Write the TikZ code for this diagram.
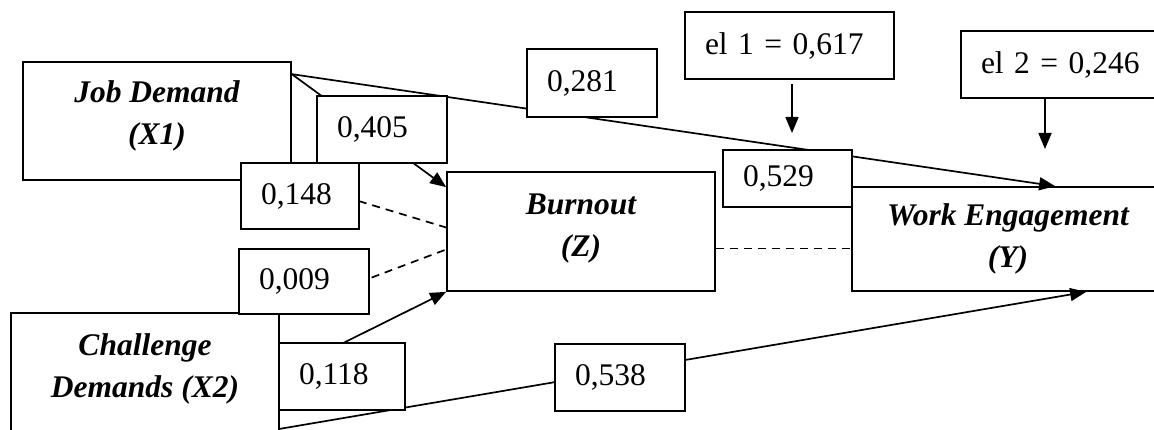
\documentclass[tikz,border=0pt]{standalone}
\usepackage{fontspec}
\setmainfont{Liberation Serif}
\usetikzlibrary{arrows.meta}

\tikzset{
  var/.style={draw, line width=1.7pt, fill=white, inner sep=0pt},
  vartext/.style={align=center, inner sep=0pt,
    font=\fontsize{31.5}{42}\selectfont\bfseries\itshape},
  coef/.style={draw, line width=1.7pt, fill=white, inner xsep=20pt, inner ysep=0pt,
    align=left, text width=#1, font=\fontsize{31.5}{38}\selectfont},
  link/.style={line width=1.7pt, -{Triangle[length=16pt,width=13pt]}},
  dashlink/.style={line width=1.7pt, dash pattern=on 8pt off 6pt},
}

\begin{document}
\begin{tikzpicture}[x=1pt,y=-1pt]
\useasboundingbox (0,0) rectangle (1154,430);
\clip (0,0) rectangle (1154,430);

% variables
\node[var, minimum width=268pt, minimum height=118pt] (jd) at (157,121) {};
\node[var, minimum width=268pt, minimum height=123pt] (cd) at (145,374.5) {};
\node[var, minimum width=268pt, minimum height=119pt] (bo) at (581,231.5) {};
\node[var, minimum width=312pt, minimum height=104pt] (we) at (1008,239) {};
\node[vartext] (jdt) at ([yshift=5pt]jd.center) {Job Demand\\(X1)};
\node[vartext] (cdt) at ([yshift=6pt]cd.center) {Challenge\\Demands (X2)};
\node[vartext] (bot) at ([yshift=3pt]bo.center) {Burnout\\(Z)};
\node[vartext] (wet) at (we.center) {Work Engagement\\(Y)};

% paths
\draw[link] ([yshift=-13pt]jd.north east) -- ([yshift=-16pt]bo.north west);
\draw[link] ([yshift=-13pt]jd.north east) -- ([xshift=204pt]we.north west);
\draw[link] (cd.east) -- (bo.south west);
\draw[link] ([yshift=8pt]cd.south east) -- ([xshift=235pt]we.south west);
\draw[dashlink] (jd.south east) -- ([yshift=4pt]bo.west);
\draw[dashlink] (cd.north east) -- ([yshift=-18pt]bo.west);
\coordinate (bz) at ([yshift=-17pt]bo.east);
\draw[dashlink] (bz) -- (bz -| we.west);

% coefficients
\node[coef=90pt, minimum height=67pt] (c405) at (382,129.5) {0,405};
\node[coef=78pt, minimum height=66pt] (c148) at (300,196) {0,148};
\node[coef=90pt, minimum height=65pt] (c009) at (304,281.5) {0,009};
\node[coef=86pt, minimum height=67pt] (c118) at (342,376.5) {0,118};
\node[coef=90pt, minimum height=67pt] (c538) at (620,377.5) {0,538};
\node[coef=90pt, minimum height=68pt] (c281) at (592,83) {0,281};
\node[coef=89pt, minimum height=57pt] (c529) at (787.5,178.5) {0,529};

% errors
\node[coef=169pt, minimum height=67pt] (el1) at (789.5,45.5) {el 1 = 0,617};
\node[coef=160pt, minimum height=67pt] (el2) at (1061,64.5) {el 2 = 0,246};
\coordinate (e1tip) at (792,133);
\coordinate (e2tip) at (1045,149);
\draw[link, shorten <=4pt] (e1tip |- el1.south) -- (e1tip);
\draw[link] (e2tip |- el2.south) -- (e2tip);
\end{tikzpicture}
\end{document}
